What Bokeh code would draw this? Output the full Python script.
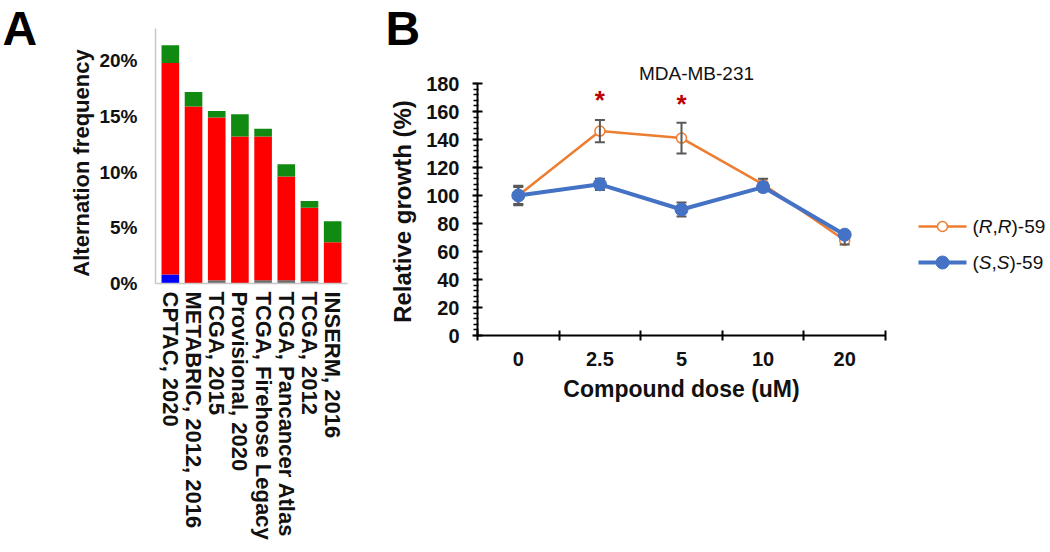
import math
from bokeh.plotting import figure
from bokeh.models import (Range1d, FixedTicker, SingleIntervalTicker, LinearAxis,
                          ColumnDataSource)
from bokeh.core.properties import value
from bokeh.embed import file_html
from bokeh.resources import INLINE

FONT = "Liberation Sans"

# ---------------- Panel A data ----------------
studies = ["CPTAC, 2020", "METABRIC, 2012, 2016", "TCGA, 2015", "Provisional, 2020",
           "TCGA, Firehose Legacy", "TCGA, Pancancer Atlas", "TCGA, 2012", "INSERM, 2016"]
deep_deletion = [0.8, 0, 0, 0, 0, 0, 0, 0]
multiple_alt = [0, 0, 0.3, 0, 0.3, 0.3, 0.2, 0]
amplification = [19.0, 15.9, 14.6, 13.2, 12.9, 9.3, 6.6, 3.7]
mutation = [1.6, 1.3, 0.6, 2.0, 0.7, 1.1, 0.6, 1.9]
freq_ticks = [0, 5, 10, 15, 20]
freq_tick_labels = ["0%", "5%", "10%", "15%", "20%"]
freq_max = 22.9

# ---------------- Panel B data ----------------
doses = ["0", "2.5", "5", "10", "20"]
rr_mean = [100, 146, 141, 108, 68]
rr_err = [6, 8, 11, 4, 3]
ss_mean = [100, 108, 90, 106, 72]
ss_err = [7, 4, 5, 3, 2]
star_doses = ["2.5", "5"]
star_y = [170, 167]
growth_max = 180
series_names = [[("(", "normal"), ("R", "italic"), (",", "normal"), ("R", "italic"), (")-59", "normal")],
                [("(", "normal"), ("S", "italic"), (",", "normal"), ("S", "italic"), (")-59", "normal")]]

ORANGE = "#ED7D31"
BLUE = "#4472C4"
ERR = "#595959"
INK = "#111111"

W, H = 1050, 550


def Y(py):
    """page pixel row (from top) -> canvas y (from bottom)"""
    return H - py


def span_range(p0, v0, p1, v1, lo_px, hi_px):
    k = (v1 - v0) / (p1 - p0)
    return Range1d(start=v0 + (lo_px - p0) * k, end=v0 + (hi_px - p0) * k)


# layout anchors (pixels from top-left)
A_LEFT, A_RIGHT, A_TOP, A_BOTTOM, A_PAD = 155, 347, 28, 283, 0.14
B_LEFT, B_RIGHT, B_TOP, B_BOTTOM = 477, 885, 83, 335

nA = len(studies)
xa_lo, xa_hi = -0.5 - A_PAD, nA - 0.5 + A_PAD
nB = len(doses)
xb_lo, xb_hi = -0.5, nB - 0.5

p = figure(x_range=Range1d(0, W), y_range=Range1d(0, H),
           frame_width=W, frame_height=H, min_border=0,
           x_axis_location=None, y_axis_location=None,
           output_backend="svg", toolbar_location=None)
p.grid.visible = False
p.outline_line_color = None
p.extra_x_ranges = {
    "xa": span_range(A_LEFT, xa_lo, A_RIGHT, xa_hi, 0, W),
    "xb": span_range(B_LEFT, xb_lo, B_RIGHT, xb_hi, 0, W),
}
p.extra_y_ranges = {
    "ya": span_range(Y(A_BOTTOM), 0, Y(A_TOP), freq_max, 0, H),
    "yb": span_range(Y(B_BOTTOM), 0, Y(B_TOP), growth_max, 0, H),
}

# ================= Panel A =================
xA = list(range(nA))
srcA = ColumnDataSource(dict(x=xA, deep=deep_deletion, multi=multiple_alt,
                             amp=amplification, mut=mutation))
p.vbar_stack(["deep", "multi", "amp", "mut"], x="x", width=0.76, source=srcA,
             color=["#0000FF", "#6E6E6E", "#FF0000", "#118A11"], line_color=None,
             x_range_name="xa", y_range_name="ya")

axA_x = LinearAxis(x_range_name="xa", y_range_name="ya", fixed_location=0,
                   bounds=(xa_lo, xa_hi), ticker=FixedTicker(ticks=xA),
                   major_label_overrides={i: s for i, s in enumerate(studies)})
axA_x.axis_line_color = "#C8C8C8"
axA_x.axis_line_width = 1.5
axA_x.major_tick_line_color = None
axA_x.minor_tick_line_color = None
axA_x.major_tick_out = 0
axA_x.major_tick_in = 0
axA_x.major_label_orientation = -math.pi / 2
axA_x.major_label_standoff = 8
axA_x.major_label_text_font = FONT
axA_x.major_label_text_font_size = "22px"
axA_x.major_label_text_font_style = "bold"
axA_x.major_label_text_color = INK
p.add_layout(axA_x, "below")

axA_y = LinearAxis(x_range_name="xa", y_range_name="ya", fixed_location=xa_lo,
                   bounds=(0, freq_max), ticker=FixedTicker(ticks=freq_ticks),
                   major_label_overrides=dict(zip(freq_ticks, freq_tick_labels)))
axA_y.axis_line_color = "#C8C8C8"
axA_y.axis_line_width = 1.5
axA_y.major_tick_line_color = None
axA_y.minor_tick_line_color = None
axA_y.major_tick_out = 0
axA_y.major_tick_in = 0
axA_y.major_label_standoff = 18
axA_y.major_label_text_font = FONT
axA_y.major_label_text_font_size = "19px"
axA_y.major_label_text_font_style = "bold"
axA_y.major_label_text_color = INK
p.add_layout(axA_y, "left")

# ================= Panel B =================
x_idx = list(range(nB))
kw = dict(x_range_name="xb", y_range_name="yb")

# (R,R)-59
p.line(x_idx, rr_mean, line_color=ORANGE, line_width=2.5, **kw)
p.scatter(x_idx, rr_mean, marker="circle", size=10, fill_color="white",
          line_color=ORANGE, line_width=1.5, **kw)
rr_lo = [m - e for m, e in zip(rr_mean, rr_err)]
rr_hi = [m + e for m, e in zip(rr_mean, rr_err)]
p.segment(x0=x_idx, y0=rr_lo, x1=x_idx, y1=rr_hi, line_color=ERR, line_width=2, **kw)
p.scatter(x_idx + x_idx, rr_lo + rr_hi, marker="dash", size=10, line_color=ERR,
          line_width=2, **kw)

# (S,S)-59
ss_lo = [m - e for m, e in zip(ss_mean, ss_err)]
ss_hi = [m + e for m, e in zip(ss_mean, ss_err)]
p.segment(x0=x_idx, y0=ss_lo, x1=x_idx, y1=ss_hi, line_color=ERR, line_width=2, **kw)
p.scatter(x_idx + x_idx, ss_lo + ss_hi, marker="dash", size=10, line_color=ERR,
          line_width=2, **kw)
p.line(x_idx, ss_mean, line_color=BLUE, line_width=4, **kw)
p.scatter(x_idx, ss_mean, marker="circle", size=13, fill_color=BLUE, line_color=BLUE, **kw)

# significance stars
star_x = [doses.index(d) for d in star_doses]
p.text(x=star_x, y=star_y, text=["*"] * len(star_x), text_color="#C00000",
       text_font=value(FONT), text_font_size=value("26px"), text_font_style="bold",
       text_align="center", text_baseline="alphabetic", y_offset=2, **kw)

axB_x = LinearAxis(fixed_location=0, bounds=(xb_lo, xb_hi),
                   ticker=FixedTicker(ticks=x_idx, minor_ticks=[i + 0.5 for i in range(-1, nB)]),
                   major_label_overrides={i: d for i, d in enumerate(doses)}, **kw)
axB_x.axis_line_width = 2
axB_x.axis_line_color = "black"
axB_x.major_tick_line_color = None
axB_x.major_tick_out = 0
axB_x.major_tick_in = 0
axB_x.minor_tick_line_color = "black"
axB_x.minor_tick_line_width = 2
axB_x.minor_tick_in = 5
axB_x.minor_tick_out = 5
axB_x.major_label_standoff = 11
axB_x.major_label_text_font = FONT
axB_x.major_label_text_font_size = "20px"
axB_x.major_label_text_font_style = "bold"
axB_x.major_label_text_color = INK
p.add_layout(axB_x, "below")

axB_y = LinearAxis(fixed_location=xb_lo, bounds=(0, growth_max),
                   ticker=SingleIntervalTicker(interval=20, num_minor_ticks=5), **kw)
axB_y.axis_line_width = 2
axB_y.axis_line_color = "black"
axB_y.major_tick_line_color = "black"
axB_y.major_tick_line_width = 2
axB_y.major_tick_in = 5
axB_y.major_tick_out = 5
axB_y.minor_tick_line_color = "black"
axB_y.minor_tick_line_width = 1.5
axB_y.minor_tick_in = 1
axB_y.minor_tick_out = 4
axB_y.major_label_standoff = 13
axB_y.major_label_text_font = FONT
axB_y.major_label_text_font_size = "20px"
axB_y.major_label_text_font_style = "bold"
axB_y.major_label_text_color = INK
p.add_layout(axB_y, "left")

# ================= titles, axis titles, panel letters =================
def put(x, py, text, size, style="bold", angle=0.0, align="center", baseline="middle", color=INK):
    p.text(x=[x], y=[Y(py)], text=[text], angle=angle, text_align=align,
           text_baseline=baseline, text_font=value(FONT), text_font_size=value(size),
           text_font_style=style, text_color=color)


put(2, 28, "A", "48px", align="left", color="#000000")
put(385, 28, "B", "48px", align="left", color="#000000")
put(81, (A_TOP + A_BOTTOM) / 2 + 7, "Alternation frequency", "22px", angle=math.pi / 2)
put(402, (B_TOP + B_BOTTOM) / 2 + 2, "Relative growth (%)", "24px", angle=math.pi / 2)
put((B_LEFT + B_RIGHT) / 2, 388, "Compound dose (uM)", "23px")
put(696, 73, "MDA-MB-231", "19px", style="normal")

# ================= legend =================
row_py = [226, 262]
colors = [ORANGE, BLUE]
p.segment(x0=[918, 918], y0=[Y(v) for v in row_py], x1=[966, 966], y1=[Y(v) for v in row_py],
          line_color=colors, line_width=[2.5, 4])
p.scatter([942, 942], [Y(v) for v in row_py], marker="circle", size=[10, 13],
          fill_color=["white", BLUE], line_color=colors, line_width=[1.5, 1])
fs = 19
adv = {"(": 0.333, ")": 0.333, ",": 0.278, "-": 0.333, "5": 0.556, "9": 0.556,
       "R": 0.722, "S": 0.667}
tx, ty, tt, tst = [], [], [], []
for name, py in zip(series_names, row_py):
    cx = 972.0
    for piece, style in name:
        tx.append(cx)
        ty.append(Y(py))
        tt.append(piece)
        tst.append(style)
        cx += sum(adv.get(ch, 0.556) for ch in piece) * fs
p.text(x=tx, y=ty, text=tt, text_font_style=tst, text_font=value(FONT),
       text_font_size=value("%dpx" % fs), text_baseline="middle", text_align="left",
       text_color=INK)

open("out.html", "w").write(file_html(p, INLINE))
